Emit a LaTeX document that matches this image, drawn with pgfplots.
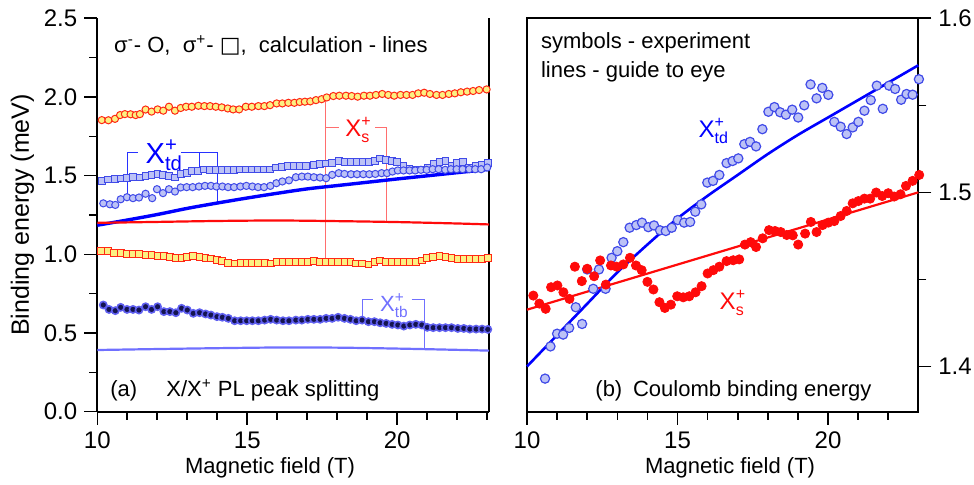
\documentclass[border=0pt]{standalone}
\usepackage{pgfplots}
\pgfplotsset{compat=1.18}
\usepackage{amsmath}
\usepackage{fontspec}
\setmainfont{Liberation Sans}
\newfontfamily\dejavu{DejaVu Sans}
\definecolor{ylw}{RGB}{252,240,130}
\definecolor{org}{RGB}{255,40,20}
\definecolor{lbf}{RGB}{188,194,246}
\definecolor{lbe}{RGB}{64,74,232}
\definecolor{navy}{RGB}{20,20,80}
\definecolor{halo}{RGB}{95,95,240}
\definecolor{tbc}{RGB}{112,112,255}
\definecolor{pinkl}{RGB}{255,110,110}
\definecolor{bl}{RGB}{0,0,255}
\definecolor{abl}{RGB}{40,50,255}
\definecolor{rd}{RGB}{255,10,10}
\newcommand{\Xl}[1]{$\text{X}^{\text{+}}_{\text{#1}}$}
\newcommand{\fs}[1]{\fontsize{#1}{#1}\selectfont}
\pgfplotsset{
  common/.style={scale only axis, height=196.7pt, clip=false, tick align=outside,
    major tick length=6.5pt, minor tick length=4pt,
    tick style={black, line width=0.8pt},
    axis line style={line width=1pt},
    tick label style={font=\fs{12}},
    label style={font=\fs{11}},
    /pgf/number format/assume math mode=true,
  },
}
\tikzset{ann/.style={anchor=base west, inner sep=0pt, font=\fs{11}}}
\begin{document}
\begin{tikzpicture}
\path[use as bounding box] (0,0) rectangle (487pt,242.5pt);
% ---------------- left panel ----------------
\begin{axis}[common, at={(48.65pt,36.65pt)}, anchor=south west, width=195.85pt,
  xmin=10, xmax=23.06, ymin=0, ymax=2.5,
  axis x line*=bottom, axis y line*=left,
  xtick={10,15,20}, minor xtick={11,12,13,14,16,17,18,19,21,22,23},
  ytick={0,0.5,1,1.5,2,2.5}, minor ytick={0.25,0.75,1.25,1.75,2.25},
  yticklabel style={/pgf/number format/.cd, fixed, fixed zerofill, precision=1},
  xlabel={Magnetic field (T)}, ylabel={Binding energy (meV)},
  xlabel style={at={(axis description cs:0.441,-0.143)}, anchor=center},
  ylabel style={at={(axis description cs:-0.191,0.5)}, anchor=center, font=\fs{12.5}},
]
\draw[line width=1pt] (rel axis cs:1,0) -- (rel axis cs:1,1);
% annotations
\draw[abl, line width=0.5pt] (axis cs:11.0,1.377) -- (axis cs:11.0,1.648) -- (axis cs:11.37,1.648);
\draw[abl, line width=0.5pt] (axis cs:12.79,1.648) -- (axis cs:14.01,1.648) -- (axis cs:14.01,1.334);
\draw[abl, line width=0.5pt] (axis cs:13.42,1.648) -- (axis cs:13.42,1.540);
\node[ann, text=bl, font=\fs{14.5}] at (axis cs:11.6,1.578) {\Xl{td}};
\draw[pinkl, line width=0.5pt] (axis cs:17.61,1.998) -- (axis cs:17.61,0.953);
\draw[pinkl, line width=0.5pt] (axis cs:17.61,1.804) -- (axis cs:18.07,1.804);
\draw[pinkl, line width=0.5pt] (axis cs:19.26,1.804) -- (axis cs:19.65,1.804) -- (axis cs:19.65,1.207);
\node[ann, text=rd, font=\fs{12}] at (axis cs:18.26,1.747) {\Xl{s}};
\draw[tbc, line width=0.5pt] (axis cs:18.85,0.593) -- (axis cs:18.85,0.710) -- (axis cs:19.18,0.710);
\draw[tbc, line width=0.5pt] (axis cs:20.48,0.710) -- (axis cs:20.92,0.710) -- (axis cs:20.92,0.403);
\node[ann, text=tbc, font=\fs{11}] at (axis cs:19.42,0.635) {\Xl{tb}};
\node[ann] at (axis cs:10.55,2.28) {σ\textsuperscript{-}- O,\ \ σ\textsuperscript{+}- {\dejavu □},\ \ calculation - lines};
\node[ann] at (axis cs:10.42,0.095) {(a)};
\node[ann] at (axis cs:12.29,0.095) {X/X\textsuperscript{+} PL peak splitting};
% calc lines
\addplot[bl, line width=1.7pt, smooth] coordinates {(10,1.185) (11,1.218) (12,1.253) (13,1.292) (14,1.326) (15,1.358) (16,1.388) (17,1.416) (18,1.437) (19,1.458) (20,1.479) (21,1.499) (22,1.519) (23.06,1.540)};
\addplot[rd, line width=1.1pt, smooth] coordinates {(10,1.200) (12,1.206) (14,1.212) (16,1.215) (18,1.211) (20,1.205) (22,1.196) (23.06,1.190)};
\addplot[tbc, line width=1.1pt, smooth] coordinates {(10,0.392) (13,0.401) (16,0.408) (18,0.407) (20,0.401) (22,0.393) (23.06,0.388)};
% yellow circles (upper X_s)
\addplot[only marks, mark=*, mark size=1.8pt, mark options={fill=ylw, draw=org, line width=0.5pt}] coordinates {
(10.15,1.853) (10.37,1.852) (10.59,1.861) (10.76,1.885) (10.92,1.891) (11.11,1.890) (11.28,1.885) (11.42,1.891) (11.61,1.920) (11.81,1.907) (12.01,1.921) (12.20,1.913) (12.39,1.938) (12.59,1.913) (12.78,1.930) (12.96,1.938) (13.15,1.938) (13.37,1.944) (13.57,1.942) (13.76,1.942) (13.95,1.938) (14.15,1.934) (14.35,1.927) (14.53,1.921) (14.73,1.921) (14.95,1.938) (15.15,1.938) (15.37,1.942) (15.57,1.942) (15.76,1.948) (15.98,1.959) (16.17,1.959) (16.37,1.963) (16.57,1.963) (16.75,1.968) (16.92,1.970) (17.10,1.972) (17.29,1.980) (17.48,1.986) (17.65,1.997) (17.87,2.006) (18.07,2.008) (18.29,2.008) (18.48,2.006) (18.68,2.002) (18.89,2.008) (19.09,2.008) (19.29,2.013) (19.50,2.019) (19.70,2.013) (19.90,2.008) (20.11,2.013) (20.31,2.013) (20.51,2.013) (20.70,2.023) (20.90,2.027) (21.09,2.019) (21.31,2.013) (21.51,2.013) (21.72,2.019) (21.92,2.023) (22.12,2.030) (22.33,2.034) (22.53,2.038) (22.73,2.044) (22.98,2.048)};
% blue squares (sigma+ X_td)
\addplot[only marks, mark=square*, mark size=1.7pt, mark options={fill=lbf, draw=lbe, line width=0.5pt}] coordinates {
(10.15,1.468) (10.37,1.476) (10.59,1.478) (10.78,1.482) (11.00,1.486) (11.20,1.493) (11.42,1.488) (11.61,1.497) (11.81,1.503) (12.01,1.508) (12.20,1.503) (12.39,1.497) (12.59,1.488) (12.78,1.510) (12.98,1.518) (13.17,1.529) (13.37,1.531) (13.57,1.539) (13.77,1.535) (13.97,1.535) (14.17,1.535) (14.36,1.535) (14.56,1.535) (14.77,1.539) (14.97,1.539) (15.17,1.539) (15.36,1.539) (15.56,1.539) (15.77,1.539) (15.97,1.552) (16.17,1.556) (16.37,1.560) (16.57,1.561) (16.77,1.561) (16.97,1.561) (17.22,1.567) (17.43,1.573) (17.63,1.577) (17.83,1.581) (18.05,1.592) (18.24,1.588) (18.46,1.588) (18.66,1.588) (18.87,1.588) (19.07,1.588) (19.27,1.592) (19.43,1.609) (19.63,1.598) (19.82,1.592) (20.00,1.588) (20.21,1.561) (20.41,1.546) (20.61,1.539) (20.82,1.539) (21.02,1.552) (21.21,1.573) (21.41,1.588) (21.61,1.592) (21.82,1.561) (21.99,1.581) (22.20,1.588) (22.40,1.552) (22.62,1.561) (22.82,1.567) (23.02,1.581)};
% blue circles (sigma- X_td)
\addplot[only marks, mark=*, mark size=1.8pt, mark options={fill=lbf, draw=lbe, line width=0.5pt}] coordinates {
(10.20,1.324) (10.42,1.318) (10.60,1.314) (10.78,1.350) (10.99,1.363) (11.19,1.357) (11.39,1.361) (11.61,1.385) (11.83,1.357) (11.99,1.414) (12.19,1.389) (12.39,1.414) (12.59,1.399) (12.78,1.425) (12.98,1.427) (13.18,1.427) (13.39,1.431) (13.59,1.435) (13.79,1.435) (13.97,1.431) (14.17,1.431) (14.36,1.427) (14.56,1.427) (14.77,1.431) (14.97,1.435) (15.17,1.431) (15.36,1.427) (15.56,1.427) (15.77,1.435) (15.97,1.452) (16.17,1.463) (16.39,1.470) (16.62,1.490) (16.82,1.494) (17.02,1.494) (17.22,1.490) (17.43,1.488) (17.63,1.484) (17.83,1.505) (18.05,1.516) (18.24,1.511) (18.46,1.509) (18.66,1.509) (18.87,1.509) (19.07,1.509) (19.27,1.511) (19.48,1.516) (19.66,1.516) (19.84,1.526) (20.02,1.533) (20.21,1.533) (20.41,1.533) (20.60,1.533) (20.79,1.537) (20.98,1.537) (21.18,1.541) (21.38,1.541) (21.60,1.537) (21.79,1.541) (21.98,1.541) (22.18,1.541) (22.40,1.541) (22.60,1.541) (22.80,1.541) (23.00,1.552)};
% yellow squares (lower X_s)
\addplot[only marks, mark=square*, mark size=1.7pt, mark options={fill=ylw, draw=org, line width=0.5pt}] coordinates {
(10.12,1.023) (10.35,1.021) (10.57,1.010) (10.78,1.010) (11.00,1.000) (11.19,1.000) (11.39,1.000) (11.61,0.996) (11.81,0.996) (12.01,0.991) (12.22,0.989) (12.42,0.985) (12.62,0.978) (12.81,0.978) (13.00,0.985) (13.20,0.989) (13.41,0.985) (13.61,0.978) (13.79,0.974) (13.99,0.963) (14.17,0.957) (14.37,0.946) (14.58,0.942) (14.78,0.946) (14.98,0.946) (15.17,0.946) (15.37,0.946) (15.58,0.946) (15.78,0.942) (15.98,0.950) (16.19,0.953) (16.39,0.953) (16.62,0.953) (16.82,0.953) (17.02,0.953) (17.22,0.957) (17.43,0.950) (17.63,0.950) (17.83,0.950) (18.03,0.950) (18.24,0.950) (18.44,0.950) (18.63,0.942) (18.83,0.942) (19.04,0.936) (19.24,0.950) (19.43,0.961) (19.63,0.950) (19.83,0.950) (20.02,0.950) (20.22,0.950) (20.42,0.950) (20.62,0.950) (20.82,0.961) (21.00,0.976) (21.20,0.982) (21.41,0.989) (21.61,0.985) (21.81,0.976) (22.02,0.970) (22.22,0.970) (22.42,0.970) (22.63,0.970) (22.83,0.970) (23.02,0.976)};
% dark circles (X_tb)
\addplot[only marks, mark=*, mark size=1.8pt, mark options={fill=navy, draw=halo, line width=0.8pt}] coordinates {
(10.20,0.678) (10.39,0.650) (10.60,0.642) (10.78,0.663) (10.99,0.650) (11.19,0.650) (11.39,0.646) (11.61,0.667) (11.81,0.650) (12.01,0.667) (12.22,0.636) (12.42,0.636) (12.62,0.629) (12.81,0.657) (13.00,0.646) (13.20,0.625) (13.41,0.629) (13.61,0.621) (13.79,0.614) (13.99,0.604) (14.17,0.600) (14.37,0.593) (14.58,0.578) (14.78,0.578) (14.98,0.578) (15.17,0.578) (15.37,0.578) (15.58,0.582) (15.78,0.587) (15.98,0.582) (16.19,0.578) (16.39,0.578) (16.62,0.582) (16.82,0.582) (17.02,0.587) (17.22,0.587) (17.43,0.587) (17.63,0.593) (17.83,0.593) (18.03,0.600) (18.24,0.593) (18.44,0.587) (18.63,0.578) (18.83,0.582) (19.04,0.572) (19.24,0.572) (19.43,0.565) (19.63,0.561) (19.83,0.555) (20.02,0.551) (20.22,0.544) (20.42,0.551) (20.62,0.555) (20.82,0.551) (21.00,0.536) (21.20,0.534) (21.41,0.534) (21.61,0.534) (21.81,0.534) (22.02,0.529) (22.22,0.529) (22.42,0.525) (22.63,0.525) (22.83,0.525) (23.02,0.523)};
\end{axis}
% ---------------- right panel ----------------
\begin{axis}[common, at={(263.5pt,36.65pt)}, anchor=south west, width=195.65pt,
  xmin=10, xmax=23, ymin=1.374, ymax=1.6,
  xtick pos=left, ytick pos=right, yticklabel pos=right,
  xtick={10,15,20}, minor xtick={11,12,13,14,16,17,18,19,21,22},
  ytick={1.4,1.5,1.6}, minor ytick={1.45,1.55},
  yticklabel style={/pgf/number format/.cd, fixed, fixed zerofill, precision=1},
  xlabel={Magnetic field (T)},
  xlabel style={at={(axis description cs:0.519,-0.143)}, anchor=center},
]
\node[ann] at (axis cs:10.455,1.5824) {symbols - experiment};
\node[ann] at (axis cs:10.455,1.5661) {lines - guide to eye};
\node[ann, text=bl, font=\fs{12}] at (axis cs:15.69,1.5316) {\Xl{td}};
\node[ann, text=rd, font=\fs{12}] at (axis cs:16.39,1.4327) {\Xl{s}};
\node[ann] at (axis cs:12.26,1.3827) {(b)};
\node[ann] at (axis cs:13.51,1.3827) {Coulomb binding energy};
\addplot[bl, line width=1.3pt, smooth] coordinates {(10,1.400) (11,1.418) (12,1.436) (13,1.454) (14,1.470) (15,1.485) (16,1.498) (17,1.510) (18,1.522) (19,1.533) (20,1.543) (21,1.553) (22,1.563) (23,1.573)};
\addplot[rd, line width=1.1pt] coordinates {(10,1.4326) (23,1.500)};
\addplot[only marks, mark=*, mark size=2.3pt, mark options={fill=lbf, draw=lbe, line width=0.6pt}] coordinates {
(10.60,1.393) (10.78,1.4115) (11.00,1.4188) (11.20,1.4183) (11.40,1.4221) (11.62,1.434) (11.83,1.4244) (12.00,1.4557) (12.20,1.4446) (12.39,1.4557) (12.61,1.4446) (12.81,1.4624) (13.00,1.4662) (13.20,1.4714) (13.41,1.4797) (13.63,1.4812) (13.82,1.4826) (14.03,1.4800) (14.22,1.4810) (14.42,1.4782) (14.61,1.4778) (14.81,1.4797) (15.01,1.4841) (15.22,1.4826) (15.42,1.4830) (15.59,1.4889) (15.79,1.4931) (15.99,1.5056) (16.18,1.5066) (16.39,1.510) (16.63,1.5168) (16.83,1.518) (17.02,1.5195) (17.22,1.5277) (17.41,1.529) (17.61,1.5264) (17.82,1.5363) (18.02,1.5463) (18.22,1.549) (18.41,1.546) (18.60,1.5446) (18.81,1.5475) (19.01,1.543) (19.21,1.550) (19.42,1.562) (19.62,1.554) (19.81,1.560) (20.01,1.556) (20.21,1.5405) (20.42,1.5377) (20.62,1.5335) (20.82,1.5373) (21.01,1.5405) (21.21,1.5469) (21.42,1.553) (21.62,1.5613) (21.82,1.548) (22.03,1.5613) (22.23,1.5594) (22.43,1.5532) (22.61,1.5565) (22.81,1.5561) (23.02,1.565)};
\addplot[only marks, mark=*, mark size=2.3pt, mark options={fill=rd, draw=rd}] coordinates {
(10.21,1.4407) (10.41,1.4361) (10.62,1.4331) (10.80,1.4455) (11.01,1.4465) (11.21,1.4426) (11.41,1.4388) (11.59,1.4573) (11.82,1.4490) (12.00,1.4561) (12.23,1.4518) (12.43,1.4609) (12.62,1.4470) (12.79,1.4580) (12.98,1.4573) (13.20,1.4586) (13.42,1.4624) (13.62,1.4580) (13.81,1.4553) (14.00,1.4486) (14.20,1.4442) (14.40,1.4369) (14.58,1.4336) (14.78,1.4355) (14.99,1.4403) (15.19,1.4397) (15.39,1.4403) (15.60,1.4426) (15.80,1.4461) (16.00,1.4534) (16.19,1.4553) (16.39,1.4573) (16.63,1.4605) (16.85,1.4610) (17.05,1.4615) (17.24,1.4700) (17.43,1.4714) (17.61,1.4686) (17.83,1.4736) (18.04,1.4783) (18.24,1.4778) (18.43,1.4772) (18.63,1.4755) (18.83,1.4753) (19.01,1.4700) (19.24,1.4763) (19.43,1.4830) (19.62,1.4772) (19.82,1.4812) (20.01,1.4826) (20.21,1.4835) (20.42,1.4864) (20.62,1.4893) (20.82,1.4937) (21.01,1.4950) (21.21,1.4964) (21.40,1.4964) (21.60,1.4999) (21.80,1.4979) (22.00,1.4995) (22.20,1.4976) (22.41,1.4989) (22.59,1.5037) (22.81,1.5066) (23.03,1.5100)};
\end{axis}
\end{tikzpicture}
\end{document}
